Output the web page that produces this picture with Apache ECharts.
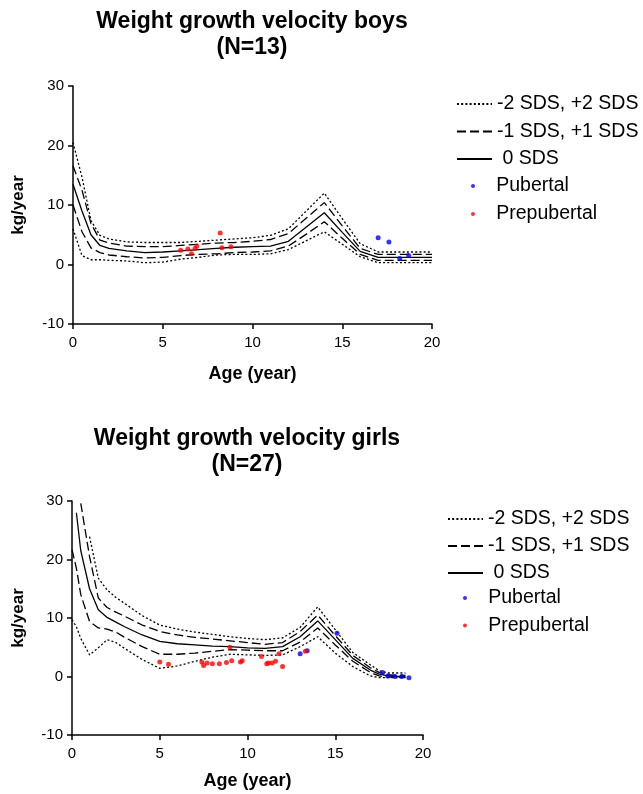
<!DOCTYPE html>
<html>
<head>
<meta charset="utf-8">
<script src="https://cdn.jsdelivr.net/npm/echarts@6/dist/echarts.min.js"></script>
<style>
html,body{margin:0;padding:0;background:#fff;}
#chart{width:643px;height:794px;}
</style>
</head>
<body>
<div id="chart"></div>
<script>
// ---------- Boys reference curves ----------
const boysAge = [0, 0.5, 1, 1.5, 2, 3, 4, 5, 6, 7, 8, 9, 10, 11, 12, 13, 14, 15, 16, 17, 18, 19, 20];
const boysP2  = [20.5, 14.7, 7.4, 4.9, 4.3, 3.8, 3.7, 3.7, 3.7, 3.9, 4.1, 4.3, 4.5, 4.9, 6.0, 9.0, 12.0, 7.7, 3.5, 2.1, 2.1, 2.1, 2.1];
const boysP1  = [16.6, 12.5, 6.9, 4.1, 3.6, 3.1, 3.0, 3.0, 3.2, 3.4, 3.6, 3.7, 3.9, 4.2, 5.2, 7.8, 10.4, 6.5, 2.7, 1.7, 1.7, 1.7, 1.7];
const boys0   = [13.5, 9.0, 5.0, 3.2, 2.7, 2.3, 2.0, 2.1, 2.3, 2.5, 2.7, 2.9, 3.0, 3.1, 3.9, 6.3, 8.7, 5.4, 2.2, 1.2, 1.2, 1.2, 1.2];
const boysM1  = [10.0, 5.5, 2.8, 2.0, 1.6, 1.3, 1.1, 1.2, 1.5, 1.7, 1.8, 2.0, 2.1, 2.3, 3.1, 5.1, 7.2, 4.4, 1.7, 0.7, 0.7, 0.7, 0.7];
const boysM2  = [6.0, 1.5, 0.8, 0.8, 0.7, 0.6, 0.3, 0.4, 0.9, 1.2, 1.6, 1.7, 1.7, 1.8, 2.5, 4.0, 5.5, 3.4, 1.3, 0.3, 0.3, 0.3, 0.3];
// Boys observations
const boysPubAge  = [17.0, 17.6, 18.2, 18.7];
const boysPubVel  = [4.5, 3.8, 1.0, 1.5];
const boysPrepAge = [6.0, 6.4, 6.6, 6.8, 6.9, 8.2, 8.3, 8.8];
const boysPrepVel = [2.4, 2.6, 1.8, 2.7, 3.1, 5.3, 2.8, 3.0];

// ---------- Girls reference curves ----------
const girlsAge = [0, 0.25, 0.5, 1, 1.5, 2, 2.5, 3, 4, 5, 6, 7, 8, 9, 10, 11, 12, 13, 14, 15, 16, 17, 17.5, 18, 18.5, 19];
const girlsP2  = [null, null, null, 23.9, 16.8, 14.8, 13.5, 12.5, 10.4, 8.8, 8.1, 7.6, 7.2, 6.8, 6.5, 6.3, 6.6, 8.4, 11.9, 8.0, 4.1, 2.0, 1.0, 0.6, 0.6, 0.6];
const girlsP1  = [null, null, 29.6, 20.5, 13.4, 11.8, 11.0, 10.3, 8.8, 7.7, 7.1, 6.7, 6.4, 6.1, 5.8, 5.5, 5.8, 7.7, 10.5, 7.0, 3.6, 1.5, 0.7, 0.3, 0.2, 0.2];
const girls0   = [null, 28.0, 21.5, 15.0, 11.4, 10.1, 9.3, 8.5, 7.1, 6.0, 5.6, 5.4, 5.2, 5.1, 4.9, 4.8, 5.1, 6.8, 9.5, 6.3, 3.1, 1.1, 0.4, 0.1, 0.0, 0.0];
const girlsM1  = [21.7, 18.5, 14.0, 9.4, 8.3, 8.1, 7.6, 6.7, 5.1, 3.8, 3.8, 4.0, 4.3, 4.6, 4.5, 4.4, 4.4, 5.9, 8.3, 5.4, 2.6, 0.7, 0.1, -0.1, -0.1, -0.1];
const girlsM2  = [9.7, 8.5, 6.5, 3.7, 4.9, 6.3, 5.8, 4.8, 2.9, 1.4, 1.8, 2.6, 3.3, 3.8, 3.7, 3.6, 3.7, 5.1, 6.8, 4.0, 1.7, 0.1, -0.2, -0.2, -0.2, -0.2];
// Girls observations
const girlsPubAge  = [13.0, 13.4, 15.1, 17.7, 18.0, 18.4, 18.8, 19.2];
const girlsPubVel  = [3.9, 4.4, 7.4, 0.7, 0.1, 0.0, 0.0, -0.2];
const girlsPrepAge = [5.0, 5.5, 7.4, 7.5, 7.7, 8.0, 8.4, 8.8, 9.0, 9.1, 9.6, 9.7, 10.8, 11.1, 11.2, 11.4, 11.6, 11.8, 12.0, 13.3];
const girlsPrepVel = [2.5, 2.1, 2.5, 1.9, 2.3, 2.2, 2.2, 2.4, 5.0, 2.7, 2.5, 2.7, 3.4, 2.2, 2.3, 2.3, 2.6, 3.9, 1.7, 4.3];

// Axis ticks
const xMin = 0, xMax = 20, xStep = 5;
const yMin = -10, yMax = 30, yStep = 10;

const FONT = '"Liberation Sans", Arial, sans-serif';
const zip = (xs, ys) => xs.map((x, i) => [x, ys[i]]);

const NAME2 = '-2 SDS, +2 SDS', NAME1 = '-1 SDS, +1 SDS', NAME0 = '0 SDS';
const DOT = [2, 2.2], DASH = [9, 4];

function curve(name, ages, vals, dash, idx) {
  return {
    type: 'line', name: name, xAxisIndex: idx, yAxisIndex: idx,
    data: zip(ages, vals), symbol: 'none', showSymbol: false, smooth: false,
    lineStyle: { color: '#000', width: 1.3, type: dash }, itemStyle: { color: '#000' },
    z: 2, silent: true
  };
}
function dots(name, xs, ys, color, idx) {
  return {
    type: 'scatter', name: name, xAxisIndex: idx, yAxisIndex: idx,
    data: zip(xs, ys), symbol: 'circle', symbolSize: 5,
    itemStyle: { color: color }, z: 5
  };
}
function xAx(idx, gap) {
  return {
    gridIndex: idx, type: 'value', min: xMin, max: xMax, interval: xStep,
    name: 'Age (year)', nameLocation: 'middle', nameGap: gap,
    nameTextStyle: { fontFamily: FONT, fontSize: 18, fontWeight: 'bold', color: '#000' },
    axisLine: { show: true, onZero: false, lineStyle: { color: '#000', width: 1.5 } },
    axisTick: { show: true, length: 5, lineStyle: { color: '#000', width: 1.5 } },
    axisLabel: { fontFamily: FONT, fontSize: 15, color: '#000', margin: 11 },
    splitLine: { show: false }
  };
}
function yAx(idx, gap) {
  return {
    gridIndex: idx, type: 'value', min: yMin, max: yMax, interval: yStep,
    name: 'kg/year', nameLocation: 'middle', nameGap: gap, nameRotate: 90,
    nameTextStyle: { fontFamily: FONT, fontSize: 17, fontWeight: 'bold', color: '#000' },
    axisLine: { show: true, onZero: false, lineStyle: { color: '#000', width: 1.5 } },
    axisTick: { show: true, length: 5, lineStyle: { color: '#000', width: 1.5 } },
    axisLabel: { fontFamily: FONT, fontSize: 15, color: '#000', margin: 9 },
    splitLine: { show: false }
  };
}
function lineLegend(left, top, gap) {
  return {
    orient: 'vertical', left: left, top: top, padding: 0, itemWidth: 35, itemHeight: 14, itemGap: gap,
    data: [NAME2, NAME1, NAME0], selectedMode: false,
    itemStyle: { opacity: 0 },
    formatter: n => n === NAME0 ? ' ' + n : n,
    textStyle: { fontFamily: FONT, fontSize: 19.5, color: '#000' }
  };
}
function dotLegend(left, top, gap) {
  return {
    orient: 'vertical', left: left, top: top, padding: 0, itemWidth: 4, itemHeight: 4, itemGap: gap,
    data: [{ name: 'Pubertal', icon: 'circle' }, { name: 'Prepubertal', icon: 'circle' }], selectedMode: false,
    formatter: n => '   ' + n,
    textStyle: { fontFamily: FONT, fontSize: 19.5, color: '#000' }
  };
}

const option = {
  animation: false,
  backgroundColor: '#fff',
  title: [
    { text: 'Weight growth velocity boys\n(N=13)', left: 252, top: 9, padding: 0, textAlign: 'center',
      textStyle: { fontFamily: FONT, fontSize: 23, fontWeight: 'bold', color: '#000', lineHeight: 26 } },
    { text: 'Weight growth velocity girls\n(N=27)', left: 247, top: 426, padding: 0, textAlign: 'center',
      textStyle: { fontFamily: FONT, fontSize: 23, fontWeight: 'bold', color: '#000', lineHeight: 26 } }
  ],
  legend: [lineLegend(456, 94, 7.5), dotLegend(471, 176, 8), lineLegend(447, 509, 7), dotLegend(463, 588, 7.5)],
  grid: [
    { left: 73, top: 86, width: 359, height: 238 },
    { left: 72, top: 501, width: 351, height: 234 }
  ],
  xAxis: [xAx(0, 41), xAx(1, 37)],
  yAxis: [yAx(0, 46), yAx(1, 45)],
  series: [
    curve(NAME2, boysAge, boysP2, DOT, 0),
    curve(NAME1, boysAge, boysP1, DASH, 0),
    curve(NAME0, boysAge, boys0, 'solid', 0),
    curve(NAME1, boysAge, boysM1, DASH, 0),
    curve(NAME2, boysAge, boysM2, DOT, 0),
    dots('Pubertal', boysPubAge, boysPubVel, '#0000ff', 0),
    dots('Prepubertal', boysPrepAge, boysPrepVel, '#ff0000', 0),
    curve(NAME2, girlsAge, girlsP2, DOT, 1),
    curve(NAME1, girlsAge, girlsP1, DASH, 1),
    curve(NAME0, girlsAge, girls0, 'solid', 1),
    curve(NAME1, girlsAge, girlsM1, DASH, 1),
    curve(NAME2, girlsAge, girlsM2, DOT, 1),
    dots('Pubertal', girlsPubAge, girlsPubVel, '#0000ff', 1),
    dots('Prepubertal', girlsPrepAge, girlsPrepVel, '#ff0000', 1)
  ]
};
const chart = echarts.init(document.getElementById('chart'), null, { renderer: 'canvas' });
chart.setOption(option);
</script>
</body>
</html>
